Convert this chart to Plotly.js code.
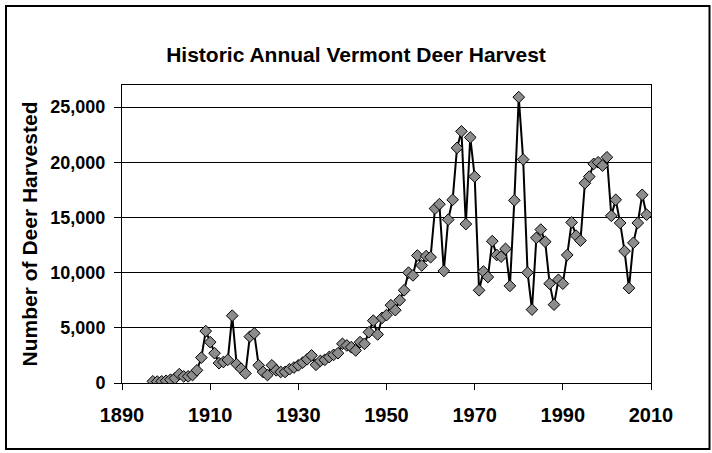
<!DOCTYPE html>
<html>
<head>
<meta charset="utf-8">
<script src="https://cdn.plot.ly/plotly-3.0.1.min.js"></script>
<style>
  html, body { margin: 0; padding: 0; background: #ffffff; }
  #chart { width: 712px; height: 453px; }
</style>
</head>
<body>
<div id="chart"></div>
<script>
// Years of record
var years = [
  1897, 1898, 1899, 1900, 1901, 1902, 1903, 1904, 1905, 1906,
  1907, 1908, 1909, 1910, 1911, 1912, 1913, 1914, 1915, 1916,
  1917, 1918, 1919, 1920, 1921, 1922, 1923, 1924, 1925, 1926,
  1927, 1928, 1929, 1930, 1931, 1932, 1933, 1934, 1935, 1936,
  1937, 1938, 1939, 1940, 1941, 1942, 1943, 1944, 1945, 1946,
  1947, 1948, 1949, 1950, 1951, 1952, 1953, 1954, 1955, 1956,
  1957, 1958, 1959, 1960, 1961, 1962, 1963, 1964, 1965, 1966,
  1967, 1968, 1969, 1970, 1971, 1972, 1973, 1974, 1975, 1976,
  1977, 1978, 1979, 1980, 1981, 1982, 1983, 1984, 1985, 1986,
  1987, 1988, 1989, 1990, 1991, 1992, 1993, 1994, 1995, 1996,
  1997, 1998, 1999, 2000, 2001, 2002, 2003, 2004, 2005, 2006,
  2007, 2008, 2009
];

// Number of deer harvested
var deerHarvested = [
  150, 130, 150, 200, 300, 420, 800, 600, 600, 720,
  1150, 2300, 4700, 3700, 2700, 1800, 1900, 2100, 6100, 1700,
  1300, 870, 4200, 4500, 1600, 1000, 720, 1600, 1150, 1000,
  1000, 1250, 1400, 1600, 1850, 2150, 2500, 1650, 2000, 2100,
  2350, 2550, 2700, 3550, 3400, 3250, 2950, 3700, 3550, 4600,
  5650, 4400, 5900, 6150, 7050, 6600, 7500, 8400, 10000, 9750,
  11550, 10650, 11500, 11400, 15800, 16200, 10150, 14800, 16600, 21300,
  22800, 14400, 22250, 18700, 8400, 10100, 9600, 12850, 11600, 11450,
  12150, 8800, 16550, 25900, 20250, 10000, 6650, 13150, 13900, 12800,
  9000, 7100, 9350, 9000, 11600, 14550, 13350, 12900, 18100, 18700,
  19850, 20000, 19700, 20450, 15150, 16600, 14500, 11950, 8600, 12700,
  14500, 17050, 15250
];

// Axis tick values / labels
var xTickVals = [1890, 1910, 1930, 1950, 1970, 1990, 2010];
var yTickVals = [0, 5000, 10000, 15000, 20000, 25000];

var chartTitle = "Historic Annual Vermont Deer Harvest";
var yTitle = "Number of Deer Harvested";

var FONT = "Liberation Sans, Arial, Helvetica, sans-serif";

var trace = {
  x: years,
  y: deerHarvested,
  type: "scatter",
  mode: "lines+markers",
  line: { color: "#000000", width: 2 },
  marker: {
    symbol: "diamond",
    size: 9,
    color: "#8c8c8c",
    line: { color: "#000000", width: 1 }
  },
  hoverinfo: "x+y"
};

// plot area in pixels: left 122, right 651, top 85, bottom 383
var L = 122, R = 651, T = 85, B = 383;
var W = 712, H = 453;
function px(xp) { return (xp - L) / (R - L); }
function py(yp) { return (B - yp) / (B - T); }

var layout = {
  width: W,
  height: H,
  margin: { l: L, r: W - R, t: T, b: H - B, pad: 0 },
  paper_bgcolor: "#ffffff",
  plot_bgcolor: "#ffffff",
  font: { family: FONT, color: "#000000" },
  showlegend: false,
  title: {
    text: "<b>" + chartTitle + "</b>",
    font: { family: FONT, size: 21, color: "#000000" },
    x: 0.5,
    xref: "container",
    xanchor: "center",
    y: 1 - 55 / H,
    yref: "container",
    yanchor: "middle"
  },
  xaxis: {
    range: [1890, 2010],
    tickmode: "array",
    tickvals: xTickVals,
    ticktext: xTickVals.map(String),
    ticks: "outside",
    ticklen: 6,
    tickwidth: 1,
    tickcolor: "#000000",
    tickfont: { family: FONT, size: 20, color: "#000000", weight: "bold" },
    showgrid: false,
    zeroline: false,
    showline: true,
    linecolor: "#000000",
    linewidth: 1,
    mirror: true,
    ticklabelstandoff: 8
  },
  yaxis: {
    range: [0, 27000],
    tickmode: "array",
    tickvals: yTickVals,
    ticktext: yTickVals.map(function (v) { return v.toLocaleString("en-US"); }),
    ticks: "outside",
    ticklen: 7,
    tickwidth: 1,
    tickcolor: "#000000",
    tickfont: { family: FONT, size: 18, color: "#000000", weight: "bold" },
    showgrid: true,
    gridcolor: "#000000",
    gridwidth: 1,
    zeroline: false,
    showline: true,
    linecolor: "#000000",
    linewidth: 1,
    mirror: true,
    title: {
      text: "<b>" + yTitle + "</b>",
      font: { family: FONT, size: 21, color: "#000000" },
      standoff: 6
    },
    ticklabelstandoff: 5
  },
  shapes: [
    {
      type: "rect",
      xref: "paper", yref: "paper",
      x0: px(6), x1: px(709.5),
      y0: py(449), y1: py(6),
      line: { color: "#000000", width: 2 },
      fillcolor: "rgba(0,0,0,0)",
      layer: "below"
    }
  ]
};

Plotly.newPlot("chart", [trace], layout, { displayModeBar: false, responsive: false });
</script>
</body>
</html>
